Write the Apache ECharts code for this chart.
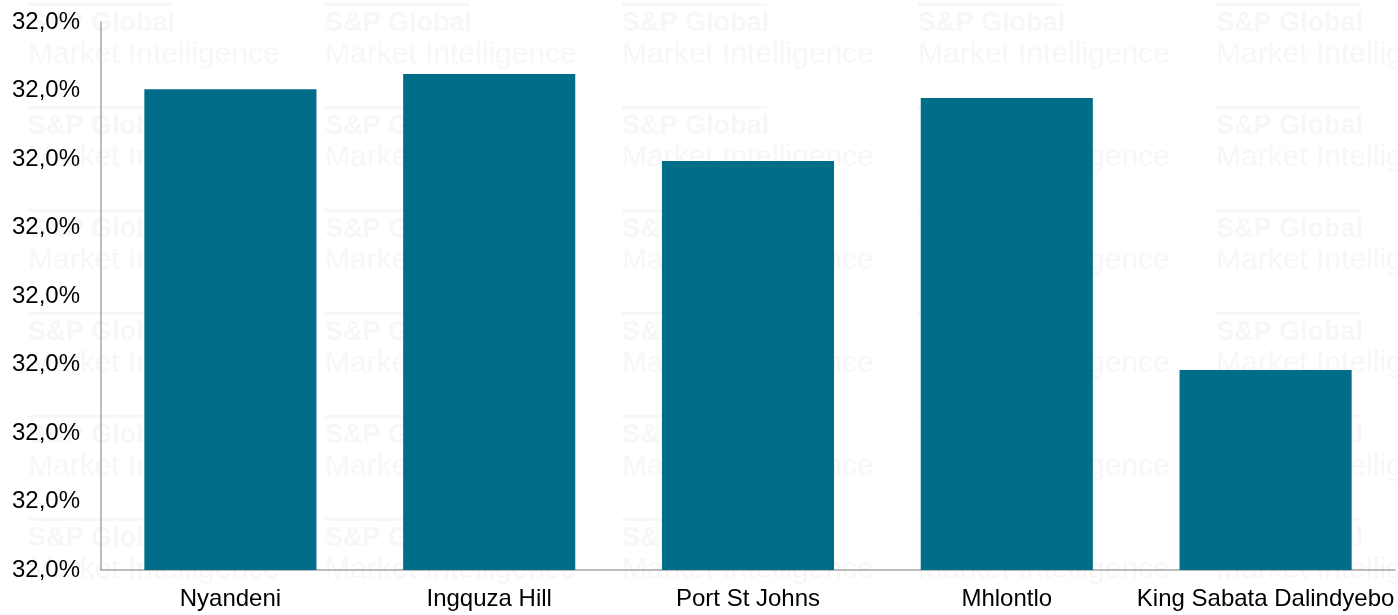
<!DOCTYPE html>
<html>
<head>
<meta charset="utf-8">
<script src="https://cdn.jsdelivr.net/npm/echarts@6/dist/echarts.min.js"></script>
<style>
  html, body { margin: 0; padding: 0; background: #ffffff; }
  #chart { width: 1398px; height: 615px; }
</style>
</head>
<body>
<div id="chart"></div>
<script>
// Municipalities and their share (%)
const categories = ['Nyandeni', 'Ingquza Hill', 'Port St Johns', 'Mhlontlo', 'King Sabata Dalindyebo'];
const shares = [32.0302, 32.0324, 32.0197, 32.0289, 31.9892];

// Value axis range
const axisMin = 31.96;
const axisMax = 32.04;
const axisStep = 0.01;

// Faint repeated brand mark in the background
const markCols = [28, 325, 622, 918, 1216];
const markRows = [3, 106, 209, 312, 415, 518];
const markColor = '#f7f7f7';
const marks = [];
markCols.forEach(function (x) {
  markRows.forEach(function (y) {
    marks.push({
      type: 'group', x: x, y: y, z: -10, silent: true,
      children: [
        { type: 'rect', shape: { x: 0, y: 0, width: 145, height: 3 }, style: { fill: markColor } },
        { type: 'text', x: 0, y: 7, style: { text: 'S&P Global', font: 'bold 27px "Liberation Sans", Arial, sans-serif', fill: markColor } },
        { type: 'text', x: 0, y: 37, style: { text: 'Market Intelligence', font: '30px "Liberation Sans", Arial, sans-serif', fill: markColor } }
      ]
    });
  });
});

const chart = echarts.init(document.getElementById('chart'));
chart.setOption({
  animation: false,
  backgroundColor: '#ffffff',
  graphic: marks,
  grid: { left: 101, right: 3, top: 22, bottom: 45, containLabel: false },
  xAxis: {
    type: 'category',
    data: categories,
    axisLine: { show: true, lineStyle: { color: '#a6a6a6', width: 1.5 } },
    axisTick: { show: false },
    axisLabel: { interval: 0, color: '#000000', fontSize: 24, fontFamily: '"Liberation Sans", Arial, sans-serif', margin: 17 }
  },
  yAxis: {
    type: 'value',
    min: axisMin,
    max: axisMax,
    interval: axisStep,
    axisLine: { show: true, lineStyle: { color: '#a6a6a6', width: 1.5 } },
    axisTick: { show: false },
    splitLine: { show: false },
    axisLabel: {
      color: '#000000', fontSize: 24, fontFamily: '"Liberation Sans", Arial, sans-serif', margin: 21,
      formatter: function (v) { return v.toFixed(1).replace('.', ',') + '%'; }
    }
  },
  series: [{
    type: 'bar',
    data: shares,
    barWidth: '66.5%',
    itemStyle: { color: '#016d89' }
  }]
});
</script>
</body>
</html>
